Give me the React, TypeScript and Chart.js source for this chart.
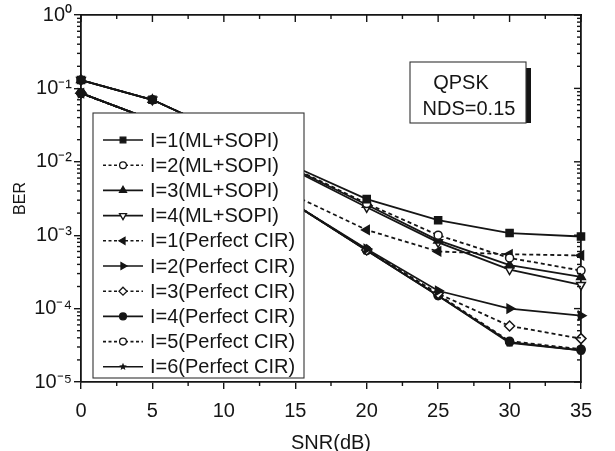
import React, { useEffect, useRef } from 'react';
import { Chart, registerables } from 'chart.js';

Chart.register(...registerables);

// ---------- data ----------
const snrDb = [0, 5, 10, 15, 20, 25, 30, 35];

const mlSopiI1 = [0.13, 0.07, 0.025, 8.5e-3, 3.1e-3, 1.6e-3, 1.07e-3, 9.6e-4];
const mlSopiI2 = [0.13, 0.07, 0.025, 8.0e-3, 2.7e-3, 1.0e-3, 4.9e-4, 3.3e-4];
const mlSopiI3 = [0.13, 0.07, 0.025, 7.8e-3, 2.6e-3, 8.5e-4, 3.9e-4, 2.7e-4];
const mlSopiI4 = [0.13, 0.07, 0.025, 7.5e-3, 2.4e-3, 8.0e-4, 3.4e-4, 2.1e-4];
const perfectI1 = [0.086, 0.037, 0.012, 3.4e-3, 1.18e-3, 6.0e-4, 5.5e-4, 5.3e-4];
const perfectI2 = [0.086, 0.037, 0.012, 2.6e-3, 6.5e-4, 1.75e-4, 1.0e-4, 8.0e-5];
const perfectI3 = [0.086, 0.037, 0.012, 2.6e-3, 6.3e-4, 1.6e-4, 5.8e-5, 3.9e-5];
const perfectI4 = [0.086, 0.037, 0.012, 2.6e-3, 6.2e-4, 1.5e-4, 3.5e-5, 2.7e-5];
const perfectI5 = [0.086, 0.037, 0.012, 2.6e-3, 6.3e-4, 1.55e-4, 3.6e-5, 2.8e-5];
const perfectI6 = [0.086, 0.037, 0.012, 2.6e-3, 6.2e-4, 1.5e-4, 3.4e-5, 2.7e-5];

const seriesLabels = [
  'I=1(ML+SOPI)',
  'I=2(ML+SOPI)',
  'I=3(ML+SOPI)',
  'I=4(ML+SOPI)',
  'I=1(Perfect CIR)',
  'I=2(Perfect CIR)',
  'I=3(Perfect CIR)',
  'I=4(Perfect CIR)',
  'I=5(Perfect CIR)',
  'I=6(Perfect CIR)',
];
const seriesValues = [
  mlSopiI1, mlSopiI2, mlSopiI3, mlSopiI4,
  perfectI1, perfectI2, perfectI3, perfectI4, perfectI5, perfectI6,
];

const xTickValues = [0, 5, 10, 15, 20, 25, 30, 35];
const yTickValues = [1, 0.1, 0.01, 0.001, 0.0001, 0.00001];
const yTickLabels = ['10⁰', '10⁻¹', '10⁻²', '10⁻³', '10⁻⁴', '10⁻⁵'];

const xTitle = 'SNR(dB)';
const yTitle = 'BER';
const noteLines = ['QPSK', 'NDS=0.15'];

// ---------- styles ----------
type MStyle = { shape: string; rot: number; filled: boolean; dashed: boolean };
const seriesStyles: MStyle[] = [
  { shape: 'rect', rot: 0, filled: true, dashed: false },
  { shape: 'circle', rot: 0, filled: false, dashed: true },
  { shape: 'triangle', rot: 0, filled: true, dashed: false },
  { shape: 'triangle', rot: 180, filled: false, dashed: false },
  { shape: 'triangle', rot: -90, filled: true, dashed: true },
  { shape: 'triangle', rot: 90, filled: true, dashed: false },
  { shape: 'rectRot', rot: 0, filled: false, dashed: true },
  { shape: 'circle', rot: 0, filled: true, dashed: false },
  { shape: 'circle', rot: 0, filled: false, dashed: true },
  { shape: 'star', rot: 0, filled: true, dashed: false },
];

const INK = '#151515';
const FONT = "'Liberation Sans', Arial, Helvetica, sans-serif";

function makeStar(r: number): HTMLCanvasElement {
  const s = Math.ceil(r * 2 + 2);
  const c = document.createElement('canvas');
  c.width = s;
  c.height = s;
  const g = c.getContext('2d')!;
  g.fillStyle = INK;
  g.beginPath();
  for (let i = 0; i < 10; i++) {
    const a = -Math.PI / 2 + (i * Math.PI) / 5;
    const rr = i % 2 === 0 ? r : r * 0.45;
    g.lineTo(s / 2 + rr * Math.cos(a), s / 2 + rr * Math.sin(a));
  }
  g.closePath();
  g.fill();
  return c;
}

function drawMarker(ctx: CanvasRenderingContext2D, st: MStyle, x: number, y: number, r: number) {
  ctx.save();
  ctx.fillStyle = st.filled ? INK : '#ffffff';
  ctx.strokeStyle = INK;
  ctx.lineWidth = 1.3;
  ctx.setLineDash([]);
  ctx.beginPath();
  if (st.shape === 'rect') {
    const h = r * Math.SQRT1_2;
    ctx.rect(x - h, y - h, 2 * h, 2 * h);
  } else if (st.shape === 'circle') {
    ctx.arc(x, y, r * 0.85, 0, Math.PI * 2);
  } else if (st.shape === 'rectRot') {
    ctx.moveTo(x, y - r);
    ctx.lineTo(x + r, y);
    ctx.lineTo(x, y + r);
    ctx.lineTo(x - r, y);
    ctx.closePath();
  } else if (st.shape === 'triangle') {
    const base = (st.rot * Math.PI) / 180;
    for (let k = 0; k < 3; k++) {
      const a = base + (k * 2 * Math.PI) / 3;
      const px = x + Math.sin(a) * r;
      const py = y - Math.cos(a) * r;
      if (k === 0) ctx.moveTo(px, py);
      else ctx.lineTo(px, py);
    }
    ctx.closePath();
  } else if (st.shape === 'star') {
    for (let i = 0; i < 10; i++) {
      const a = -Math.PI / 2 + (i * Math.PI) / 5;
      const rr = i % 2 === 0 ? r : r * 0.45;
      ctx.lineTo(x + rr * Math.cos(a), y + rr * Math.sin(a));
    }
    ctx.closePath();
    ctx.fill();
    ctx.restore();
    return;
  }
  ctx.fill();
  ctx.stroke();
  ctx.restore();
}

function seg(ctx: CanvasRenderingContext2D, x1: number, y1: number, x2: number, y2: number) {
  ctx.beginPath();
  ctx.moveTo(x1, y1);
  ctx.lineTo(x2, y2);
  ctx.stroke();
}

const legendPlugin = {
  id: 'legendBoxes',
  afterDraw(chart: any) {
    const ctx: CanvasRenderingContext2D = chart.ctx;
    ctx.save();
    // legend box
    const lx = 93, ly = 113, lw = 211, lh = 265;
    ctx.fillStyle = '#ffffff';
    ctx.fillRect(lx, ly, lw, lh);
    ctx.lineWidth = 1.1;
    ctx.strokeStyle = '#333';
    ctx.strokeRect(lx, ly, lw, lh);
    ctx.font = `20px ${FONT}`;
    ctx.textBaseline = 'middle';
    ctx.textAlign = 'left';
    chart.data.datasets.forEach((ds: any, i: number) => {
      const st = seriesStyles[i];
      const y = 140 + i * 25.2;
      ctx.strokeStyle = INK;
      ctx.lineWidth = 1.6;
      ctx.setLineDash(st.dashed ? [3, 2.5] : []);
      seg(ctx, 103, y, 143, y);
      ctx.setLineDash([]);
      drawMarker(ctx, st, 123, y, 4);
      ctx.fillStyle = INK;
      ctx.fillText(ds.label, 150, y + 1);
    });

    // annotation box
    const bx = 410, by = 62, bw = 116, bh = 61;
    ctx.fillStyle = INK;
    ctx.fillRect(bx + bw, by + 6, 5, bh - 6);
    ctx.fillStyle = '#ffffff';
    ctx.fillRect(bx, by, bw, bh);
    ctx.strokeStyle = '#333';
    ctx.lineWidth = 1.1;
    ctx.strokeRect(bx, by, bw, bh);
    ctx.fillStyle = INK;
    ctx.textAlign = 'center';
    ctx.fillText(noteLines[0], 461, 83);
    ctx.fillText(noteLines[1], 469, 109);
    ctx.restore();
  },
};

const ticksPlugin = {
  id: 'minorTicks',
  afterDraw(chart: any) {
    const ctx: CanvasRenderingContext2D = chart.ctx;
    const xs = chart.scales.x;
    const ys = chart.scales.y;
    const left = xs.getPixelForValue(0);
    const right = xs.getPixelForValue(35);
    const top = ys.getPixelForValue(1);
    const bottom = ys.getPixelForValue(1e-5);
    ctx.save();
    ctx.setLineDash([]);
    ctx.strokeStyle = INK;
    ctx.lineWidth = 1.4;
    for (let v = 0; v <= 35; v += 2.5) {
      const px = xs.getPixelForValue(v);
      const major = v % 5 === 0;
      if (!major) seg(ctx, px, bottom, px, bottom + 4);
      seg(ctx, px, top, px, top + (major ? 7 : 4));
    }
    for (let e = -5; e <= 0; e++) {
      for (let m = 1; m <= 9; m++) {
        if (e === 0 && m > 1) break;
        const py = ys.getPixelForValue(m * Math.pow(10, e));
        if (m > 1) seg(ctx, left - 4, py, left, py);
        seg(ctx, right - (m === 1 ? 7 : 4), py, right, py);
      }
    }
    ctx.restore();
  },
};

export default function App() {
  const ref = useRef<HTMLCanvasElement | null>(null);
  useEffect(() => {
    document.body.style.margin = '0';
    const canvas = ref.current;
    if (!canvas) return;
    const star = makeStar(5);
    const datasets = seriesValues.map((vals, i) => {
      const st = seriesStyles[i];
      return {
        label: seriesLabels[i],
        data: vals.map((v, k) => ({ x: snrDb[k], y: v })),
        borderColor: INK,
        borderWidth: 1.8,
        borderDash: st.dashed ? [4, 3] : [],
        pointStyle: st.shape === 'star' ? star : st.shape,
        pointRotation: st.rot,
        pointRadius: st.shape === 'circle' ? 4 : 5,
        pointBorderWidth: 1.5,
        pointBorderColor: INK,
        pointBackgroundColor: st.filled ? INK : '#ffffff',
        backgroundColor: INK,
        fill: false,
        tension: 0,
        clip: false as any,
      };
    });
    const axisGrid = { display: true, drawOnChartArea: false, drawTicks: true, tickLength: 7, color: INK, lineWidth: 1.4 };
    const axisBorder = { display: true, color: INK, width: 1.8 };
    const chart = new Chart(canvas, {
      type: 'line',
      data: { datasets },
      options: {
        animation: false,
        responsive: false,
        devicePixelRatio: 1,
        layout: { padding: { top: 15, right: 34, left: 0, bottom: 0 } },
        plugins: { legend: { display: false }, tooltip: { enabled: false } },
        scales: {
          x: {
            type: 'linear',
            position: 'bottom',
            min: 0,
            max: 35,
            grid: axisGrid,
            border: axisBorder,
            afterBuildTicks: (s: any) => {
              s.ticks = xTickValues.map((v) => ({ value: v }));
            },
            afterFit: (s: any) => {
              s.height = 69;
            },
            ticks: {
              color: INK,
              font: { family: FONT, size: 20 },
              padding: 10,
              maxRotation: 0,
              autoSkip: false,
              callback: (v: any) => String(v),
            },
            title: {
              display: true,
              text: xTitle,
              color: INK,
              font: { family: FONT, size: 20, lineHeight: 1 },
              padding: { top: 0, bottom: -2 },
            },
          },
          x2: {
            type: 'linear',
            position: 'top',
            min: 0,
            max: 35,
            grid: { display: true, drawOnChartArea: false, drawTicks: false },
            border: axisBorder,
            ticks: { display: false },
            afterFit: (s: any) => {
              s.height = 0;
            },
          },
          y: {
            type: 'logarithmic',
            position: 'left',
            min: 1e-5,
            max: 1,
            grid: axisGrid,
            border: axisBorder,
            afterBuildTicks: (s: any) => {
              s.ticks = yTickValues.map((v) => ({ value: v }));
            },
            afterFit: (s: any) => {
              s.width = 81;
            },
            ticks: {
              color: INK,
              font: { family: FONT, size: 20 },
              padding: 2,
              autoSkip: false,
              callback: (v: any) => {
                const idx = yTickValues.findIndex((t) => Math.abs(Math.log10(t) - Math.log10(v)) < 1e-6);
                return idx >= 0 ? yTickLabels[idx] : '';
              },
            },
            title: {
              display: true,
              text: yTitle,
              color: INK,
              font: { family: FONT, size: 16 },
              padding: { top: 11, bottom: 0 },
            },
          },
          y2: {
            type: 'logarithmic',
            position: 'right',
            min: 1e-5,
            max: 1,
            grid: { display: true, drawOnChartArea: false, drawTicks: false },
            border: axisBorder,
            ticks: { display: false },
            afterFit: (s: any) => {
              s.width = 0;
            },
          },
        },
      },
      plugins: [ticksPlugin, legendPlugin],
    });
    return () => chart.destroy();
  }, []);
  return (
    <div style={{ width: 615, height: 451 }}>
      <canvas ref={ref} width={615} height={451} style={{ display: 'block' }} />
    </div>
  );
}
